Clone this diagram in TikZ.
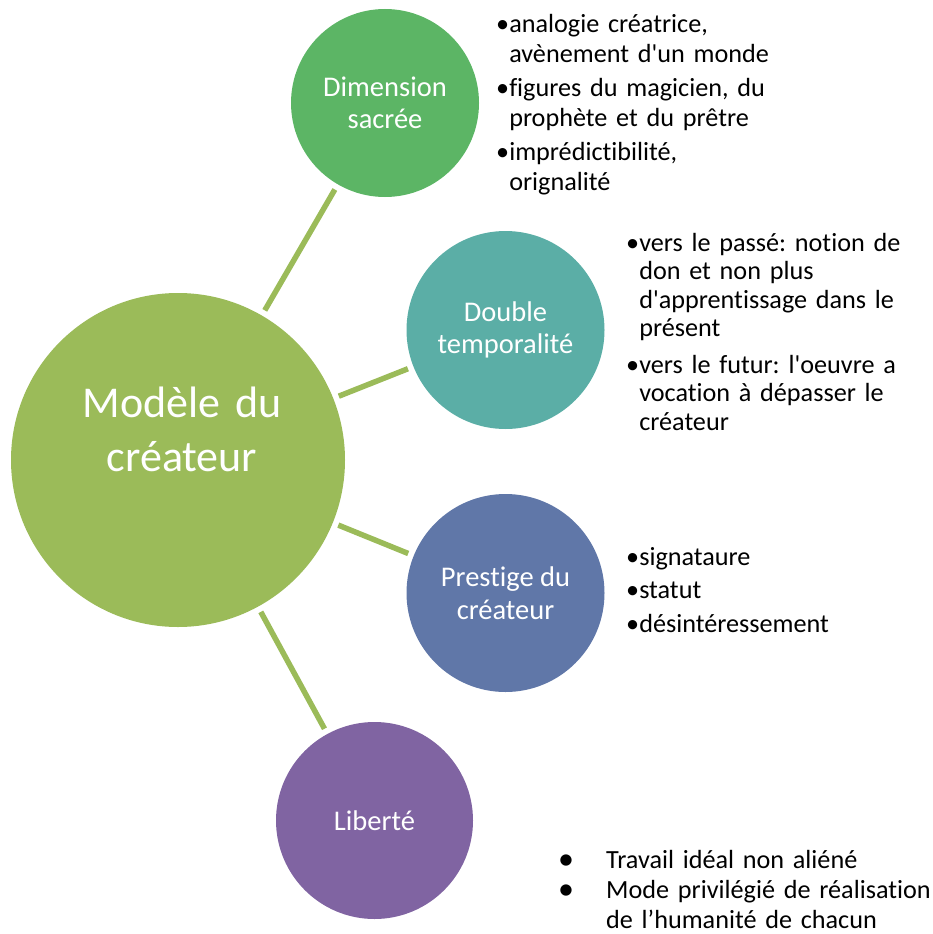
\documentclass[tikz,border=0pt]{standalone}
\usepackage{fontspec}
\setmainfont{Carlito}[Ligatures={TeXOff,NoCommon}]
\usepackage{tikz}
\usetikzlibrary{positioning}
\frenchspacing

\definecolor{modelecol}{HTML}{9BBB59}
\definecolor{sacrecol}{HTML}{5CB565}
\definecolor{tempscol}{HTML}{5BAEA6}
\definecolor{prestigecol}{HTML}{6077A8}
\definecolor{libertecol}{HTML}{8064A2}

\newcommand{\retrait}{\phantom{•}}
\newcommand{\puce}{\makebox[48pt][l]{\raisebox{-1pt}{\fontsize{32}{30}\selectfont •}}}

\begin{document}
\begin{tikzpicture}[x=1pt, y=-1pt,
    bulle/.style={circle, fill=#1, text=white, inner sep=0pt, outer sep=0pt, minimum size=198pt, align=center, font=\fontsize{28.5}{32.5}\selectfont},
    titre/.style={anchor=base, text width=260pt, align=center, inner sep=0pt, text=white, font=\fontsize{44}{54}\selectfont},
    liste/.style={anchor=base west, text width=380pt, align=left, inner sep=0pt, font=\fontsize{26.2}{29.5}\selectfont},
    line/.style={draw=modelecol, line width=5.5pt, shorten >=6pt, shorten <=6pt}]

    \useasboundingbox (0,0) rectangle (932,934);

    \node [bulle=modelecol, minimum size=334pt] (modele) at (178,460) {};
    \node [titre] (titre) at (182,417) {Modèle du\\créateur};

    \node [bulle=sacrecol, minimum size=188pt] (sacre) at (385,103) {Dimension\\sacrée};
    \node [bulle=tempscol] (temps) at (505.5,330) {Double\\temporalité};
    \node [bulle=prestigecol] (prestige) at (505.5,593) {Prestige du\\créateur};
    \node [bulle=libertecol, minimum size=197pt] (liberte) at (374.5,820.5) {Liberté};

    \node [liste] (listesacre) at (496,33) {
        •analogie créatrice,\\\retrait avènement d'un monde\\[5pt]
        •figures du magicien, du\\\retrait prophète et du prêtre\\[5pt]
        •imprédictibilité,\\\retrait orignalité
    };
    \node [liste, font=\fontsize{26.2}{28.5}\selectfont] (listetemps) at (626,251) {
        •vers le passé: notion de\\\retrait don et non plus\\\retrait d'apprentissage dans le\\\retrait présent\\[8pt]
        •vers le futur: l'oeuvre a\\\retrait vocation à dépasser le\\\retrait créateur
    };
    \node [liste] (listeprestige) at (626,565) {
        •signataure\\[4pt]
        •statut\\[4pt]
        •désintéressement
    };
    \node [liste, font=\fontsize{26.2}{30}\selectfont] (listeliberte) at (558,868) {
        \puce Travail idéal non aliéné\\
        \puce Mode privilégié de réalisation\\
        \hspace*{48pt}de l’humanité de chacun
    };

    \path [line] (modele) -- (sacre);
    \path [line] (modele) -- (temps);
    \path [line] (modele) -- (prestige);
    \path [line] (modele) -- (liberte);
\end{tikzpicture}
\end{document}
